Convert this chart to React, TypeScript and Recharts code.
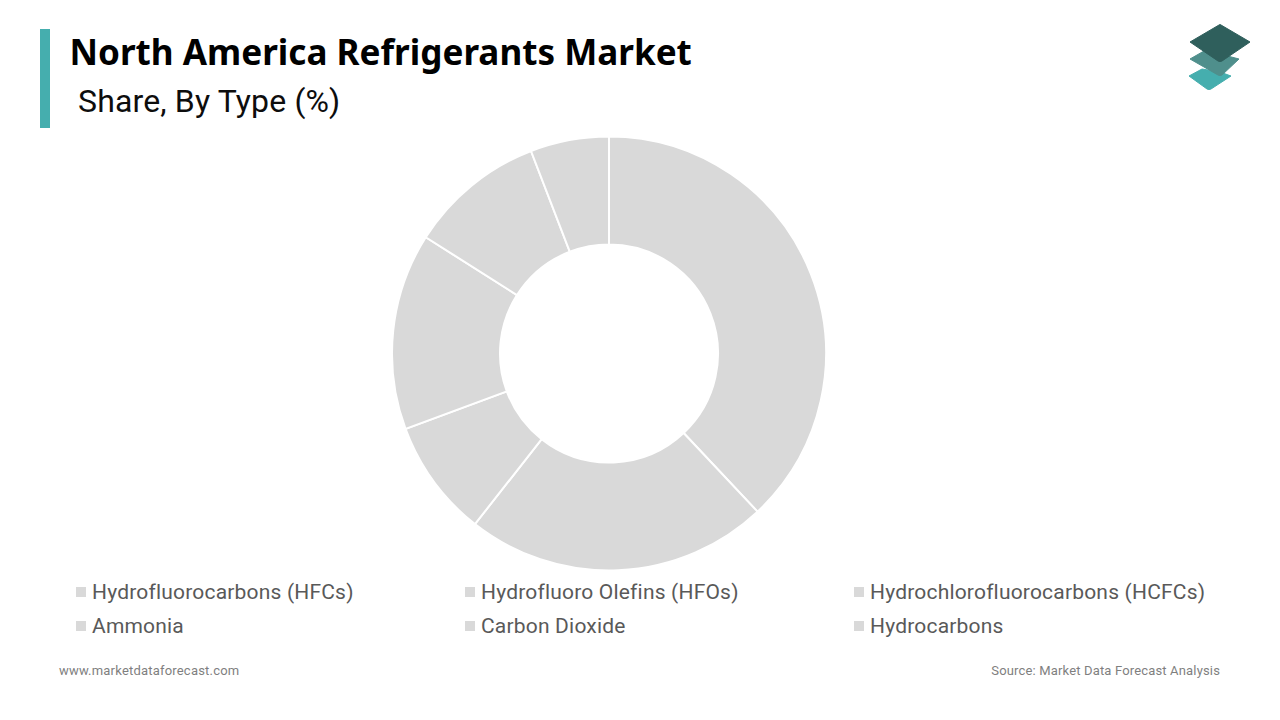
import React from 'react';
import { PieChart, Pie, Cell, Legend } from 'recharts';

const types = [
  'Hydrofluorocarbons (HFCs)',
  'Hydrofluoro Olefins (HFOs)',
  'Hydrochlorofluorocarbons (HCFCs)',
  'Ammonia',
  'Carbon Dioxide',
  'Hydrocarbons',
];
const shares = [38, 22.6, 8.75, 14.65, 10.15, 5.85];

const rows = types.map((name, i) => ({ name, value: shares[i] }));

const legendColumns = [76, 465, 854];
const legendRows = [592, 626];

function LegendContent({ payload }: any) {
  return (
    <div>
      {(payload || []).map((entry: any, i: number) => (
        <div
          key={entry.value}
          style={{
            position: 'absolute',
            left: legendColumns[i % 3],
            top: legendRows[Math.floor(i / 3)] - 14,
            height: 28,
            display: 'flex',
            alignItems: 'center',
            whiteSpace: 'nowrap',
            fontFamily: 'Roboto',
            fontSize: 21,
            letterSpacing: 0.19,
            color: '#595959',
          }}
        >
          <span style={{ width: 10, height: 10, background: '#d9d9d9', marginRight: 6, flex: 'none' }} />
          {entry.value}
        </div>
      ))}
    </div>
  );
}

export default function App() {
  return (
    <div style={{ position: 'absolute', left: 0, top: 0, width: 1280, height: 720, background: '#fff', overflow: 'hidden' }}>
      <div style={{ position: 'absolute', left: 40, top: 29, width: 10, height: 99, background: '#45aeae' }} />
      <div style={{ position: 'absolute', left: 69.5, top: 26, fontFamily: 'Noto Sans', fontWeight: 700, fontSize: 35.1, lineHeight: '50px', color: '#000', whiteSpace: 'nowrap' }}>
        North America Refrigerants Market
      </div>
      <div style={{ position: 'absolute', left: 78, top: 81, fontFamily: 'Roboto', fontSize: 32, lineHeight: '40px', letterSpacing: 0.15, color: '#0d0d0d', whiteSpace: 'nowrap' }}>
        Share, By Type (%)
      </div>

      <svg style={{ position: 'absolute', left: 1170, top: 10 }} width={100} height={90}>
        <path d="M19 66 L32 59 L50 62 L61 66 L41 79 Q39 80 37 79 Z" fill="#45aeae" stroke="#45aeae" strokeWidth={1} strokeLinejoin="round" />
        <path d="M20 49 L34 41 L50 44 L69 49 L52 65 Q50 66 48 65 Z" fill="#4f8f8c" stroke="#4f8f8c" strokeWidth={1} strokeLinejoin="round" />
        <path d="M20 32 L49 15 Q50 14 51 15 L80 32 L52 51 Q50 52 48 51 Z" fill="#2f5f5c" stroke="#2f5f5c" strokeWidth={1} strokeLinejoin="round" />
      </svg>

      <PieChart width={1280} height={720} margin={{ top: 0, right: 0, bottom: 0, left: 0 }} style={{ position: 'absolute', left: 0, top: 0 }}>
        <Pie
          data={rows}
          dataKey="value"
          nameKey="name"
          cx={609}
          cy={353.5}
          innerRadius={109}
          outerRadius={217}
          startAngle={90}
          endAngle={-270}
          stroke="#fff"
          strokeWidth={2}
          isAnimationActive={false}
        >
          {rows.map((r) => (
            <Cell key={r.name} fill="#d9d9d9" />
          ))}
        </Pie>
        <Legend content={LegendContent} itemSorter={null} wrapperStyle={{ position: 'absolute', left: 0, top: 0, width: 0, height: 0 }} />
      </PieChart>

      <div style={{ position: 'absolute', left: 59, top: 662, fontFamily: 'Roboto', fontSize: 13, lineHeight: '18px', letterSpacing: 0.2, color: '#7f7f7f', whiteSpace: 'nowrap' }}>
        www.marketdataforecast.com
      </div>
      <div style={{ position: 'absolute', right: 60, top: 662, fontFamily: 'Roboto', fontSize: 13, lineHeight: '18px', letterSpacing: 0.16, color: '#7f7f7f', whiteSpace: 'nowrap' }}>
        Source: Market Data Forecast Analysis
      </div>
    </div>
  );
}
